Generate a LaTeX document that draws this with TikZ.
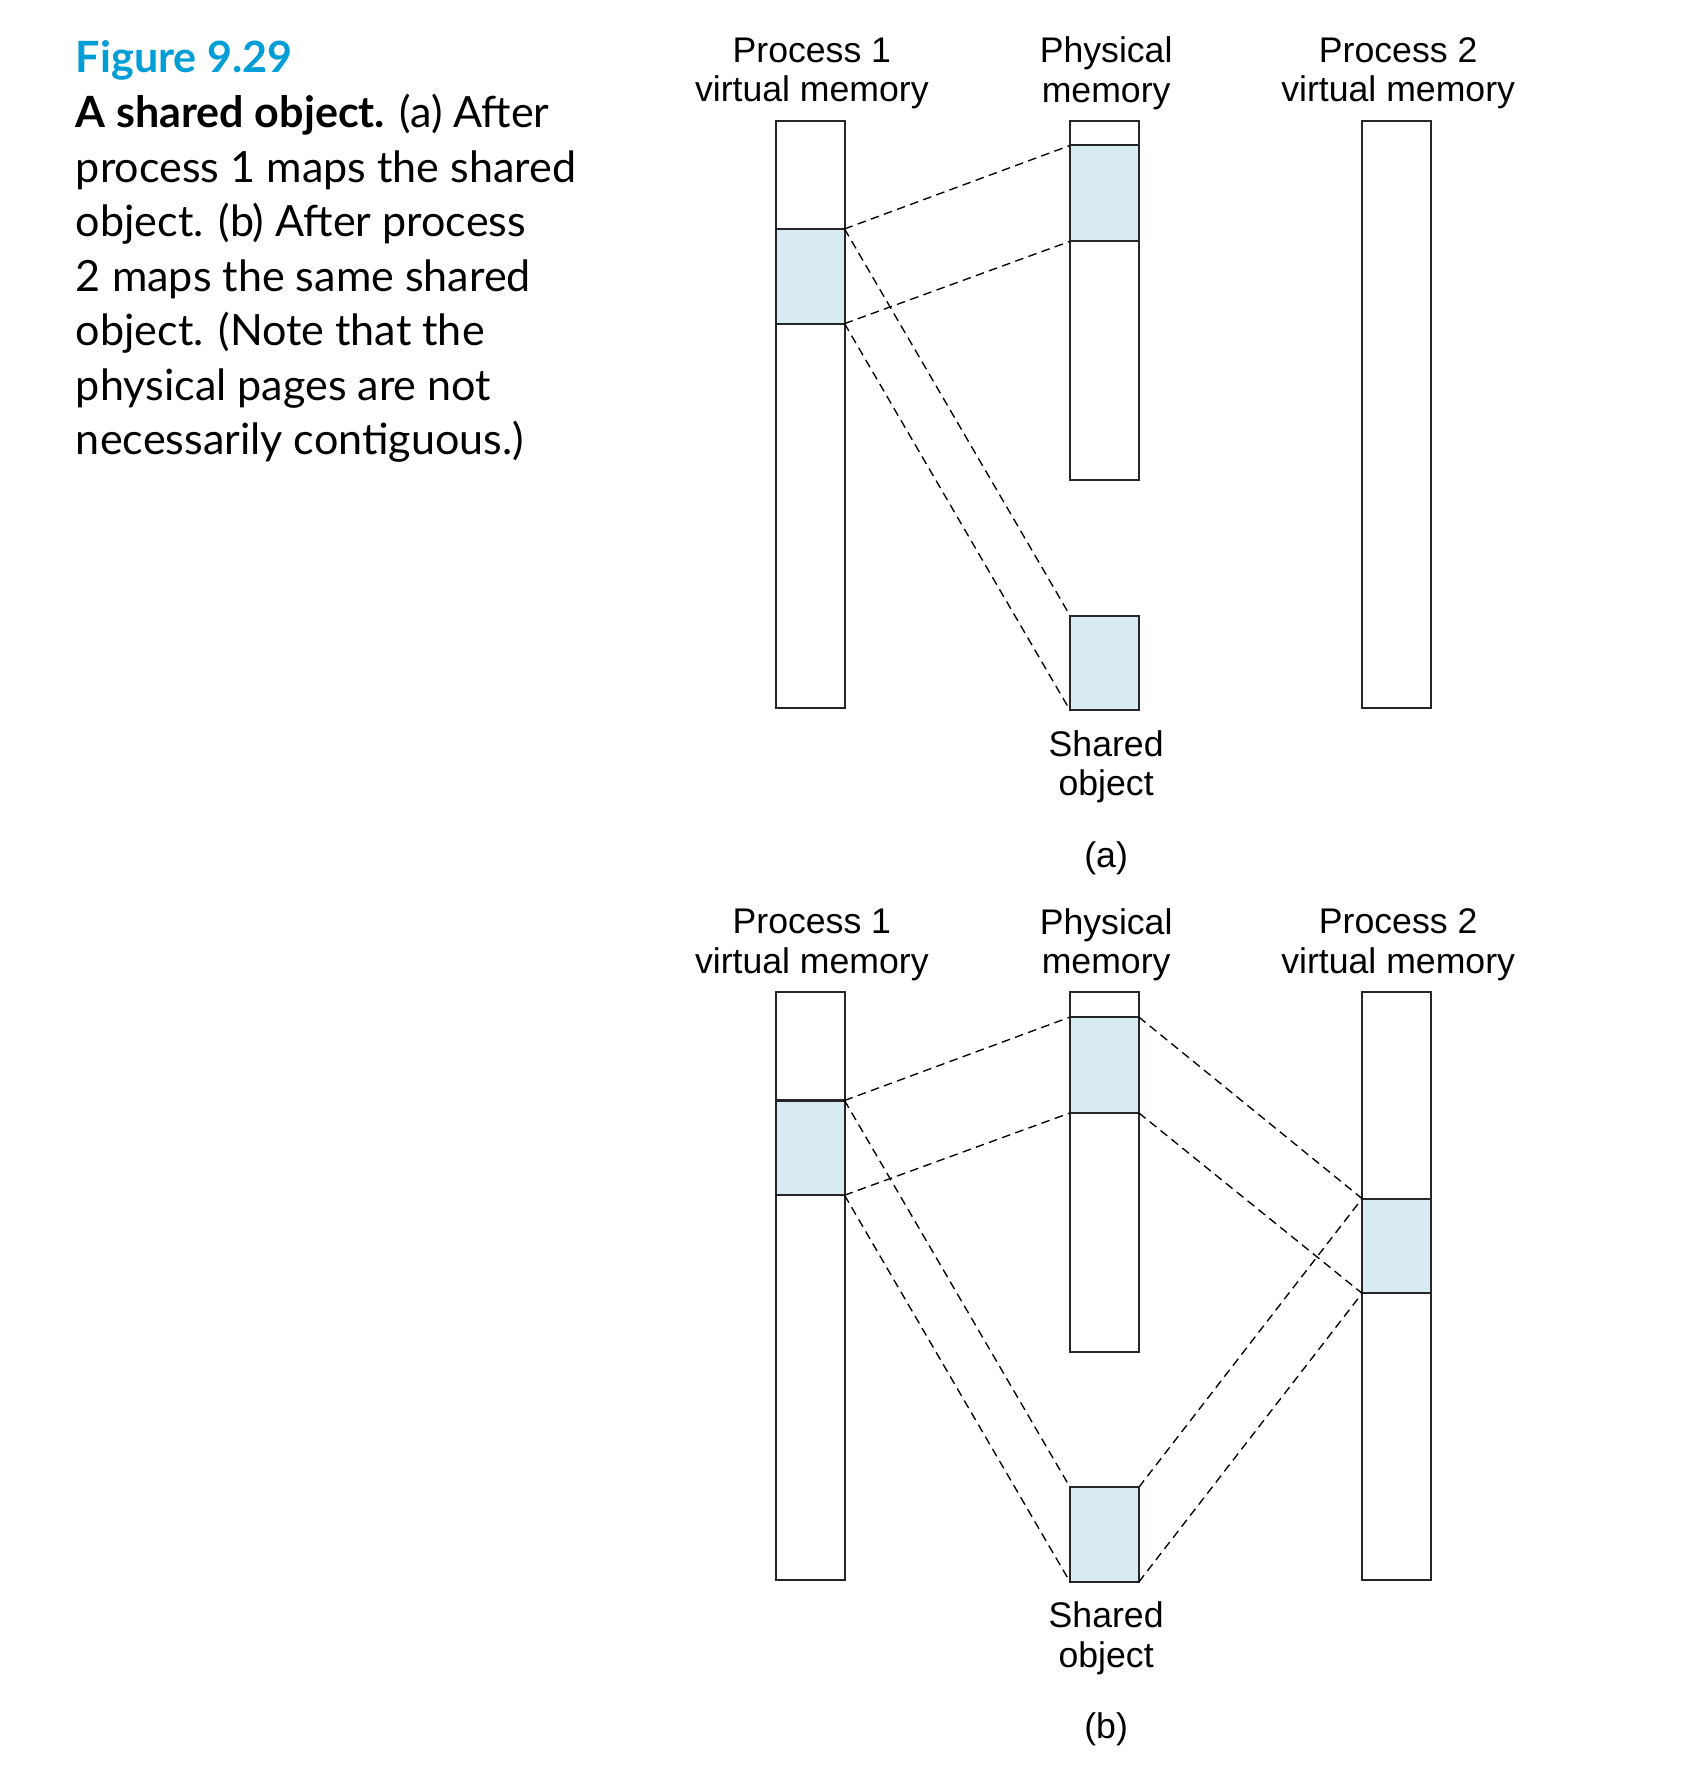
\documentclass[tikz,border=0pt]{standalone}
\usepackage{fontspec}
\setmainfont{Liberation Sans}
\newfontfamily\capfont{Lato}
\definecolor{pagefill}{RGB}{217,235,242}
\definecolor{figblue}{RGB}{0,158,214}
\begin{document}
\begin{tikzpicture}[x=0.5pt,y=-0.5pt,
  mem/.style={draw=black!85,line width=0.9pt,fill=white,inner sep=0pt,outer sep=0pt,anchor=north west,minimum width=30.5pt},
  page/.style={mem,fill=pagefill},
  map/.style={draw=black,line width=0.6pt,dash pattern=on 3.8pt off 2.4pt},
  lbl/.style={font=\fontsize{15.8}{17.6}\selectfont,align=center,inner sep=0pt},
]
\useasboundingbox (0,0) rectangle (1492,1568);
\fill[white] (0,0) rectangle (1492,1568);

% caption
\node[anchor=north west,inner sep=0pt,align=left,font=\capfont\fontsize{19.1}{24.2}\selectfont] (cap) at (67,36)
{{\color{figblue}\bfseries Figure 9.29}\\
{\bfseries A shared object.} (a) After\\
process 1 maps the shared\\
object. (b) After process\\
2 maps the same shared\\
object. (Note that the\\
physical pages are not\\
necessarily contiguous.)};

% ---------- panel (a)
\node[lbl] (l1a) at (720,65) {Process 1\\virtual memory};
\node[lbl] (l2a) at (981,65) {Physical\\memory};
\node[lbl] (l3a) at (1240,65) {Process 2\\virtual memory};

\node[mem,minimum height=260.5pt] (p1a) at (688,107) {};
\node[page,minimum height=42pt] (p1sa) at (688,203) {};
\node[mem,minimum height=159.5pt] (pha) at (949,107) {};
\node[page,minimum height=42.5pt] (phsa) at (949,129) {};
\node[page,minimum height=42pt] (soa) at (949,546) {};
\node[mem,minimum height=260.5pt] (p2a) at (1208,107) {};

\draw[map] (p1sa.north east) -- (phsa.north west);
\draw[map] (p1sa.south east) -- (phsa.south west);
\draw[map] (p1sa.north east) -- (soa.north west);
\draw[map] (p1sa.south east) -- (soa.south west);

\node[lbl] (sla) at (981,680) {Shared\\object};
\node[lbl] (taga) at (981,761) {(a)};

% ---------- panel (b)
\node[lbl] (l1b) at (720,838) {Process 1\\virtual memory};
\node[lbl] (l2b) at (981,838) {Physical\\memory};
\node[lbl] (l3b) at (1240,838) {Process 2\\virtual memory};

\node[mem,minimum height=260.5pt] (p1b) at (688,880) {};
\node[page,minimum height=42pt] (p1sb) at (688,976) {};
\node[mem,minimum height=159.5pt] (phb) at (949,880) {};
\node[page,minimum height=42.5pt] (phsb) at (949,902) {};
\node[page,minimum height=42pt] (sob) at (949,1319) {};
\node[mem,minimum height=260.5pt] (p2b) at (1208,880) {};
\node[page,minimum height=42pt] (p2sb) at (1208,1063) {};

\draw[map] (p1sb.north east) -- (phsb.north west);
\draw[map] (p1sb.south east) -- (phsb.south west);
\draw[map] (p1sb.north east) -- (sob.north west);
\draw[map] (p1sb.south east) -- (sob.south west);
\draw[map] (phsb.north east) -- (p2sb.north west);
\draw[map] (phsb.south east) -- (p2sb.south west);
\draw[map] (sob.north east) -- (p2sb.north west);
\draw[map] (sob.south east) -- (p2sb.south west);

\node[lbl] (slb) at (981,1453) {Shared\\object};
\node[lbl] (tagb) at (981,1534) {(b)};
\end{tikzpicture}
\end{document}
